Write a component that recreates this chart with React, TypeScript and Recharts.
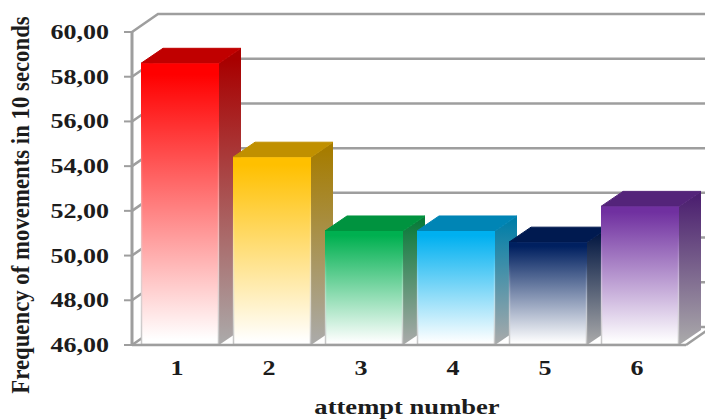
import { Bar, BarChart, CartesianGrid, XAxis, YAxis } from "recharts";

// Frequency of movements per attempt, drawn as 3D-looking columns on a walled plot.
const attempts = ["1", "2", "3", "4", "5", "6"];
const frequency = [58.6, 54.4, 51.1, 51.1, 50.6, 52.2];
const yTicks = [46, 48, 50, 52, 54, 56, 58, 60];

const frontColors = ["#ff0000", "#ffc000", "#00b050", "#00b0f0", "#002060", "#7030a0"];
const topColors = ["#c00000", "#c09000", "#00933f", "#0085b5", "#001a50", "#54247a"];
const sideColors = ["#a80000", "#a67c00", "#0a7a3a", "#007ea8", "#001540", "#4c2070"];

const rows = attempts.map((attempt, i) => ({ attempt, value: frequency[i] }));

const FONT = '"Liberation Serif", serif';
const INK = "#1c1c1c";
const WALL = "#9e9e9e";
const DEPTH_X = 22; // column depth
const DEPTH_Y = 15;
const WALL_X = 26; // floor depth
const WALL_Y = 18;

// Side wall diagonal plus the back wall line for each value tick
function WallLine(props: any) {
  const { x1, x2, y1 } = props;
  const isFloor = y1 > 340;
  return (
    <g stroke={WALL} strokeWidth={2.5} fill="none">
      <polyline points={`${x1},${y1} ${x1 + WALL_X},${y1 - WALL_Y} 720,${y1 - WALL_Y}`} />
      {isFloor && <line x1={x2} y1={y1} x2={x2 + WALL_X} y2={y1 - WALL_Y} />}
    </g>
  );
}

function Column(props: any) {
  const { x, y, width, height, index } = props;
  const right = x + width;
  const bottom = y + height;
  return (
    <g>
      <defs>
        <linearGradient id={`front${index}`} x1="0" y1="0" x2="0" y2="1">
          <stop offset="4%" stopColor={frontColors[index]} />
          <stop offset="98%" stopColor="#ffffff" />
        </linearGradient>
        <linearGradient id={`side${index}`} x1="0" y1="0" x2="0" y2="1">
          <stop offset="4%" stopColor={sideColors[index]} />
          <stop offset="100%" stopColor="#ababab" />
        </linearGradient>
        <linearGradient id={`edge${index}`} x1="0" y1="0" x2="0" y2="1">
          <stop offset="20%" stopColor="#ffffff" stopOpacity={0} />
          <stop offset="100%" stopColor="#bdbdbd" stopOpacity={0.9} />
        </linearGradient>
      </defs>
      <path
        d={`M${right},${y} L${right + DEPTH_X},${y - DEPTH_Y} L${right + DEPTH_X},${bottom - DEPTH_Y} L${right},${bottom} Z`}
        fill={`url(#side${index})`}
      />
      <path
        d={`M${x},${y} L${x + DEPTH_X},${y - DEPTH_Y} L${right + DEPTH_X},${y - DEPTH_Y} L${right},${y} Z`}
        fill={topColors[index]}
        stroke={topColors[index]}
        strokeLinejoin="round"
      />
      <rect x={x} y={y} width={width} height={height} fill={`url(#front${index})`} />
      <rect x={x + 0.5} y={y + 0.5} width={width - 1} height={height - 1} fill="none" stroke={`url(#edge${index})`} strokeWidth={1.5} />
    </g>
  );
}

function ValueTick({ x, y, payload }: any) {
  const label = Number(payload.value).toFixed(2).replace(".", ",");
  return (
    <text
      transform={`translate(${x - 13},${y + 7}) scale(1.24,1)`}
      textAnchor="end"
      fontFamily={FONT}
      fontWeight="bold"
      fontSize={21}
      fill={INK}
    >
      {label}
    </text>
  );
}

function AttemptTick({ x, y, payload }: any) {
  return (
    <text
      transform={`translate(${x - 3},${y + 22}) scale(1.24,1)`}
      textAnchor="middle"
      fontFamily={FONT}
      fontWeight="bold"
      fontSize={21}
      fill={INK}
    >
      {payload.value}
    </text>
  );
}

export default function App() {
  return (
    <div style={{ position: "absolute", left: 0, top: 0, width: 705, height: 419, overflow: "hidden", background: "#fff" }}>
      <BarChart
        width={705}
        height={419}
        data={rows}
        margin={{ top: 32, right: 19, bottom: 0, left: 0 }}
        barSize={78}
      >
        <CartesianGrid vertical={false} horizontal={WallLine} />
        <XAxis
          dataKey="attempt"
          height={74}
          padding={{ left: 2, right: 0 }}
          tick={AttemptTick}
          tickLine={false}
          axisLine={{ stroke: WALL, strokeWidth: 2.5 }}
          interval={0}
        />
        <YAxis
          width={132}
          domain={[46, 60]}
          ticks={yTicks}
          interval={0}
          tick={ValueTick}
          tickSize={8}
          tickLine={{ stroke: WALL, strokeWidth: 2 }}
          axisLine={{ stroke: WALL, strokeWidth: 3 }}
        />
        <Bar dataKey="value" shape={Column} isAnimationActive={false} />
        <text
          transform="translate(29,205) rotate(-90) scale(1.14,1.3)"
          textAnchor="middle"
          fontFamily={FONT}
          fontWeight="bold"
          fontSize={20}
          fill={INK}
        >
          Frequency of movements in 10 seconds
        </text>
        <text
          transform="translate(407,414) scale(1.33,1)"
          textAnchor="middle"
          fontFamily={FONT}
          fontWeight="bold"
          fontSize={20}
          fill={INK}
        >
          attempt number
        </text>
      </BarChart>
    </div>
  );
}
